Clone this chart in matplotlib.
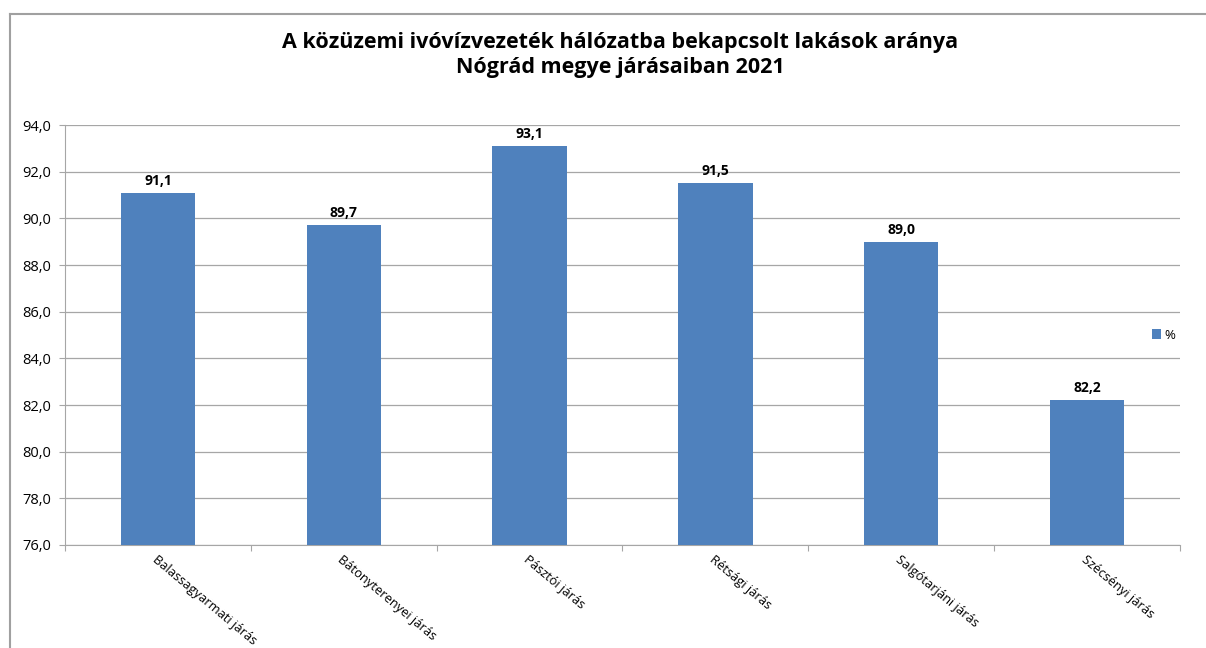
import numpy as np
import matplotlib
matplotlib.use("Agg")
import matplotlib.pyplot as plt
from matplotlib.lines import Line2D

plt.rcParams['font.family'] = ['Open Sans', 'DejaVu Sans']

jarasok = ['Balassagyarmati járás', 'Bátonyterenyei járás', 'Pásztói járás',
           'Rétsági járás', 'Salgótarjáni járás', 'Szécsényi járás']
ertekek = [91.1, 89.7, 93.1, 91.5, 89.0, 82.2]
yticks = np.arange(76, 94.1, 2)

fig = plt.figure(figsize=(12.06, 6.48), dpi=100)
ax = fig.add_axes([0.0539, 0.159, 0.9245, 0.648])

x = np.arange(len(jarasok))
bars = ax.bar(x, ertekek, width=0.4, color='#4F81BD', label='%', zorder=3)

ax.set_ylim(76, 94)
ax.set_xlim(-0.5, len(jarasok) - 0.5)
ax.set_yticks(yticks)
ax.set_yticklabels([f'{v:.1f}'.replace('.', ',') for v in yticks], fontsize=10.5)
ax.grid(axis='y', color='#A6A6A6', linewidth=0.9, zorder=0)

ax.set_xticks(np.arange(-0.5, len(jarasok), 1.0))
ax.set_xticklabels([])
ax.set_xticks(x, minor=True)
ax.set_xticklabels(jarasok, minor=True, rotation=-40, ha='left', va='top',
                   rotation_mode='anchor', fontsize=9.3)
ax.tick_params(axis='x', which='minor', length=0, pad=6)
ax.tick_params(axis='x', which='major', length=4, color='#A6A6A6')
ax.tick_params(axis='y', length=4, color='#A6A6A6', pad=6)

for s in ['top', 'right']:
    ax.spines[s].set_visible(False)
ax.spines['left'].set_color('#A6A6A6')
ax.spines['bottom'].set_color('#A6A6A6')

for b, v in zip(bars, ertekek):
    ax.text(b.get_x() + b.get_width() / 2, v + 0.22, f'{v:.1f}'.replace('.', ','),
            ha='center', va='bottom', fontsize=10, fontweight='bold')

fig.text(0.514, 0.915, 'A közüzemi ivóvízvezeték hálózatba bekapcsolt lakások aránya\nNógrád megye járásaiban 2021',
         ha='center', va='center', fontsize=15.5, fontweight='bold', linespacing=1.3)

fig.legend(loc='center left', bbox_to_anchor=(0.945, 0.483), frameon=False,
           fontsize=9.5, handlelength=0.7, handleheight=0.7, handletextpad=0.3)

fig.add_artist(Line2D([10 / 1206, 10 / 1206], [0, 1 - 14 / 648], color='#A0A0A0', linewidth=1.5))
fig.add_artist(Line2D([10 / 1206, 1], [1 - 14 / 648, 1 - 14 / 648], color='#A0A0A0', linewidth=1.5))

fig.savefig('out.png', dpi=100)
